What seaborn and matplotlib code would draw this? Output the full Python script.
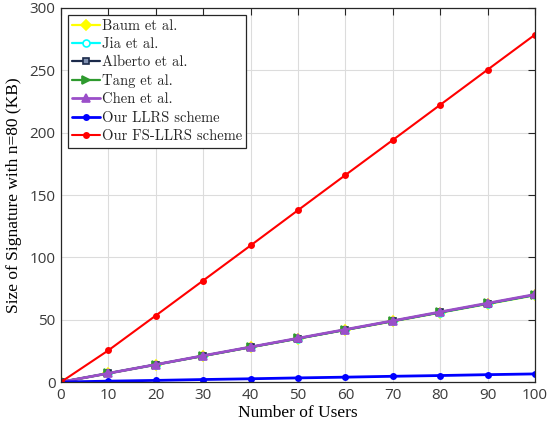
import numpy as np
import pandas as pd
import matplotlib
matplotlib.use("Agg")
import matplotlib.pyplot as plt
import seaborn as sns

# Number of users on the x axis
users = [0, 10, 20, 30, 40, 50, 60, 70, 80, 90, 100]

# Signature sizes (KB) with n = 80
baum = [0, 6.9, 13.9, 20.8, 27.8, 34.7, 41.7, 48.6, 55.6, 62.5, 69.5]
jia = [0, 7.0, 13.9, 20.9, 27.9, 34.8, 41.8, 48.8, 55.7, 62.7, 69.7]
alberto = [0, 7.0, 14.0, 21.0, 28.0, 34.9, 41.9, 48.9, 55.9, 62.9, 69.9]
tang = [0, 7.0, 14.0, 21.0, 28.0, 35.0, 42.0, 49.0, 56.0, 63.0, 70.0]
chen = [0, 7.0, 14.0, 21.1, 28.1, 35.1, 42.1, 49.1, 56.2, 63.2, 70.2]
llrs = [0, 0.7, 1.3, 2.0, 2.6, 3.3, 3.9, 4.6, 5.2, 5.9, 6.5]
fs_llrs = [0, 25.4, 53.3, 81.4, 109.5, 137.8, 166.0, 194.1, 222.3, 250.5, 278.6]

series_names = ["Baum et al.", "Jia et al.", "Alberto et al.", "Tang et al.",
                "Chen et al.", "Our LLRS scheme", "Our FS-LLRS scheme"]
series_values = [baum, jia, alberto, tang, chen, llrs, fs_llrs]

x_ticks = [0, 10, 20, 30, 40, 50, 60, 70, 80, 90, 100]
y_ticks = [0, 50, 100, 150, 200, 250, 300]

styles = {
    "Baum et al.": dict(color="#FFFF00", marker="D", ms=5, mfc="#FFFF00", lw=1.6),
    "Jia et al.": dict(color="#00FFFF", marker="o", ms=5, mfc="white", lw=1.6),
    "Alberto et al.": dict(color="#1B2A4A", marker="s", ms=5, mfc="#8090b0", lw=1.6),
    "Tang et al.": dict(color="#2E9A2E", marker=">", ms=6, mfc="#2E9A2E", lw=1.6),
    "Chen et al.": dict(color="#9B4FC9", marker="^", ms=6, mfc="#9B4FC9", lw=2.0),
    "Our LLRS scheme": dict(color="#0000FF", marker="o", ms=3.8, mfc="#0000FF", lw=2.0),
    "Our FS-LLRS scheme": dict(color="#FF0000", marker="o", ms=3.8, mfc="#FF0000", lw=1.5),
}

df = pd.DataFrame({"users": users})
for name, vals in zip(series_names, series_values):
    df[name] = vals

sns.set_style("white")
plt.rcParams["font.family"] = ["Liberation Serif", "DejaVu Serif"]

fig, ax = plt.subplots(figsize=(5.47, 4.32), dpi=100)
fig.subplots_adjust(left=0.1115, right=0.978, top=0.9815, bottom=0.1157)

for name in series_names:
    st = styles[name]
    sns.lineplot(data=df, x="users", y=name, ax=ax, label=name,
                 color=st["color"], marker=st["marker"], markersize=st["ms"],
                 markerfacecolor=st["mfc"], markeredgecolor=st["color"],
                 markeredgewidth=1.2, linewidth=st["lw"])

ax.set_xlim(0, 100)
ax.set_ylim(0, 300)
ax.set_xticks(x_ticks)
ax.set_yticks(y_ticks)
ax.grid(True, color="#dcdcdc", linewidth=0.8)
ax.set_axisbelow(True)

for sp in ax.spines.values():
    sp.set_visible(True)
    sp.set_color("#262626")
    sp.set_linewidth(0.9)

ax.tick_params(direction="in", top=True, right=True, length=5, width=0.8,
               color="#262626", labelcolor="#3a3a3a", labelsize=11, pad=4)
for lab in ax.get_xticklabels() + ax.get_yticklabels():
    lab.set_family(["Open Sans", "DejaVu Sans"])

ax.set_xlabel("Number of Users", fontsize=12.5, color="black", labelpad=2)
ax.set_ylabel("Size of Signature with n=80 (KB)", fontsize=12.5, color="black", labelpad=5)

leg = ax.legend(loc="upper left", fancybox=False, frameon=True, framealpha=1,
                edgecolor="#262626", prop={"family": ["cmr10", "DejaVu Serif"], "size": 10.5},
                handlelength=1.9, handletextpad=0.15, labelspacing=0.32,
                borderpad=0.3, borderaxespad=0.45)
leg.get_frame().set_linewidth(0.9)

fig.savefig("out.png", dpi=100)
